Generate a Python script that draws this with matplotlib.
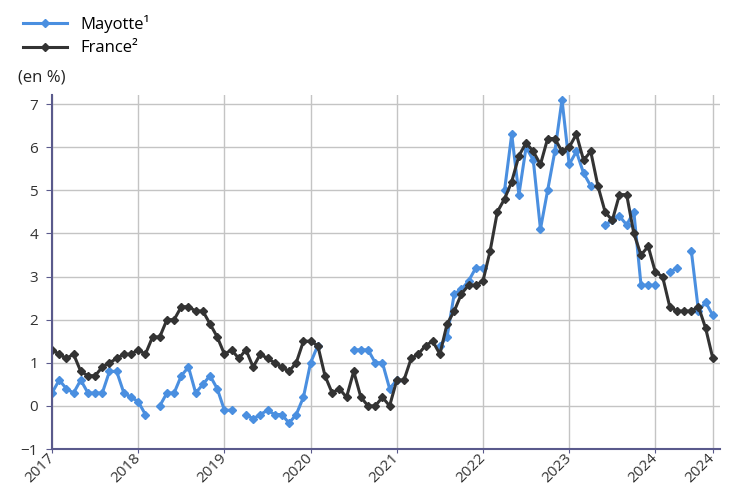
import numpy as np
import matplotlib
matplotlib.use('Agg')
import matplotlib.pyplot as plt

plt.rcParams['font.family'] = ['Open Sans', 'DejaVu Sans']

# monthly inflation, jan 2017 -> sep 2024 (nan = no data)
NAN = np.nan
MAYOTTE = [
    0.3, 0.6, 0.4, 0.3, 0.6, 0.3, 0.3, 0.3, 0.8, 0.8, 0.3, 0.2,          # 2017
    0.1, -0.2, NAN, 0.0, 0.3, 0.3, 0.7, 0.9, 0.3, 0.5, 0.7, 0.4,         # 2018
    -0.1, -0.1, NAN, -0.2, -0.3, -0.2, -0.1, -0.2, -0.2, -0.4, -0.2, 0.2,  # 2019
    1.0, 1.4, NAN, NAN, NAN, NAN, 1.3, 1.3, 1.3, 1.0, 1.0, 0.4,          # 2020
    0.6, NAN, NAN, NAN, NAN, NAN, 1.4, 1.6, 2.6, 2.7, 2.9, 3.2,          # 2021
    3.2, NAN, NAN, 5.0, 6.3, 4.9, 6.0, 5.7, 4.1, 5.0, 5.9, 7.1,          # 2022
    5.6, 5.9, 5.4, 5.1, NAN, 4.2, 4.3, 4.4, 4.2, 4.5, 2.8, 2.8,          # 2023
    2.8, NAN, 3.1, 3.2, NAN, 3.6, 2.2, 2.4, 2.1,                         # 2024
]
FRANCE = [
    1.3, 1.2, 1.1, 1.2, 0.8, 0.7, 0.7, 0.9, 1.0, 1.1, 1.2, 1.2,
    1.3, 1.2, 1.6, 1.6, 2.0, 2.0, 2.3, 2.3, 2.2, 2.2, 1.9, 1.6,
    1.2, 1.3, 1.1, 1.3, 0.9, 1.2, 1.1, 1.0, 0.9, 0.8, 1.0, 1.5,
    1.5, 1.4, 0.7, 0.3, 0.4, 0.2, 0.8, 0.2, 0.0, 0.0, 0.2, 0.0,
    0.6, 0.6, 1.1, 1.2, 1.4, 1.5, 1.2, 1.9, 2.2, 2.6, 2.8, 2.8,
    2.9, 3.6, 4.5, 4.8, 5.2, 5.8, 6.1, 5.9, 5.6, 6.2, 6.2, 5.9,
    6.0, 6.3, 5.7, 5.9, 5.1, 4.5, 4.3, 4.9, 4.9, 4.0, 3.5, 3.7,
    3.1, 3.0, 2.3, 2.2, 2.2, 2.2, 2.3, 1.8, 1.1,
]
TICK_POS = [0, 12, 24, 36, 48, 60, 72, 84, 92]
TICK_LABELS = ['2017', '2018', '2019', '2020', '2021', '2022', '2023', '2024', '2024']

MONTHS = np.arange(len(FRANCE))
BLUE = '#4a8fe0'
DARK = '#333333'

fig = plt.figure(figsize=(7.41, 4.86), dpi=100)
ax = fig.add_axes([0.0702, 0.0761, 0.9015, 0.7284])

ax.plot(MONTHS, MAYOTTE, color=BLUE, lw=2.2, marker='D', ms=4, label='Mayotte¹')
ax.plot(MONTHS, FRANCE, color=DARK, lw=2.2, marker='D', ms=4, label='France²')

ax.set_xlim(0, 93)
ax.set_ylim(-1, 7.21)
ax.set_yticks(range(-1, 8))
ax.set_xticks(TICK_POS)
ax.set_xticklabels(TICK_LABELS, rotation=45, ha='right', va='center',
                   rotation_mode='anchor', fontsize=11, color='#333333')
ax.tick_params(axis='y', labelsize=11, labelcolor='#333333', length=4,
               color='#5a5a8c', pad=6)
ax.tick_params(axis='x', length=3, color='#5a5a8c', pad=2)
ax.grid(True, color='#c4c4c4', lw=1)
ax.set_axisbelow(True)
for side in ['top', 'right']:
    ax.spines[side].set_visible(False)
for side in ['left', 'bottom']:
    ax.spines[side].set_color('#5a5a8c')
    ax.spines[side].set_linewidth(1.5)

fig.legend(loc='upper left', bbox_to_anchor=(0.018, 0.99), frameon=False,
           fontsize=12, handlelength=2.6, labelspacing=0.45, borderaxespad=0.2)
fig.text(0.024, 0.84, '(en %)', fontsize=12, va='center', color='#222222')

fig.savefig('out.png', dpi=100)
